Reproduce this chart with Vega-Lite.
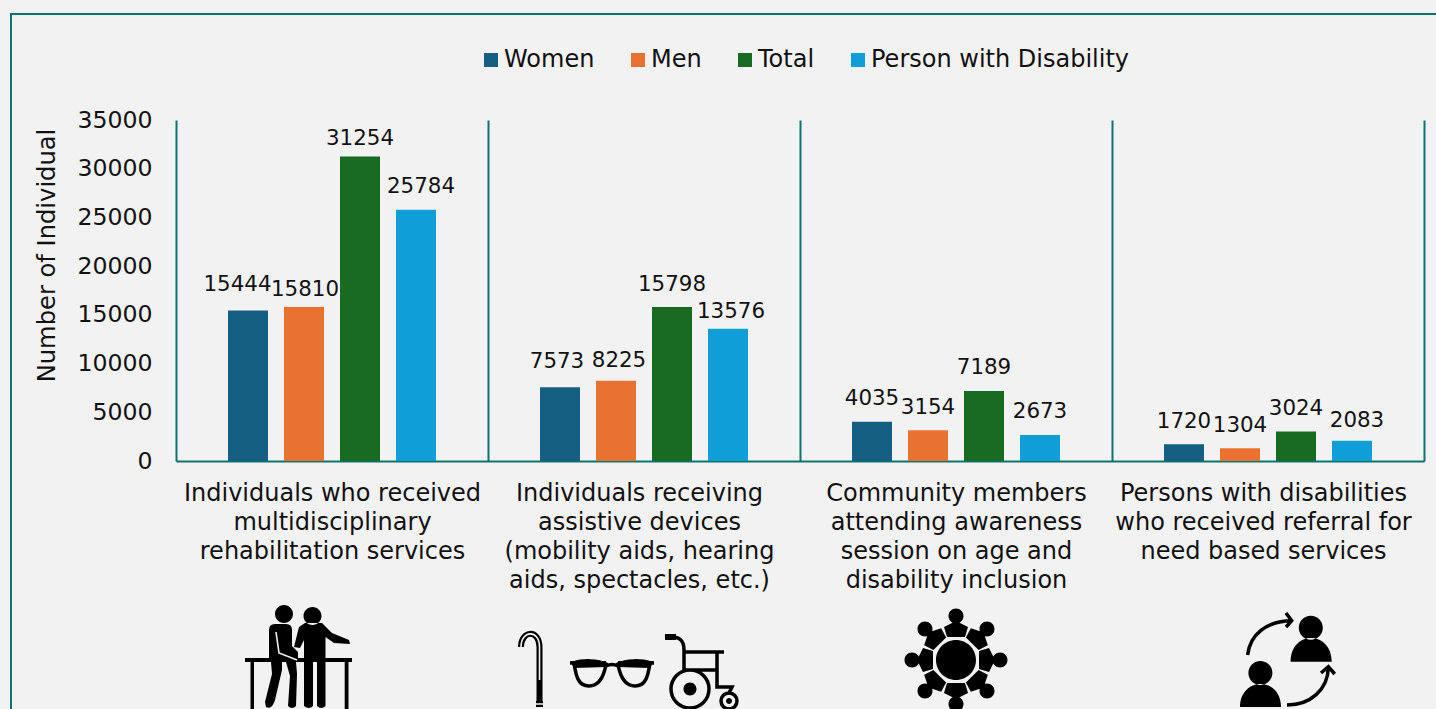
{
"$schema":"https://vega.github.io/schema/vega-lite/v6.json",
"autosize":{"type":"none"},
"padding":{"left":11,"top":14,"right":0,"bottom":0},
"width":1430,"height":700,
"background":"#f2f2f2",
"view":{"fill":"#f2f2f2","stroke":"#0f7270","strokeWidth":2},
"config":{"font":"DejaVu Sans"},
"datasets":{
"bars":[
{"cat":"Individuals who received|multidisciplinary|rehabilitation services","series":"Women","value":15444},
{"cat":"Individuals who received|multidisciplinary|rehabilitation services","series":"Men","value":15810},
{"cat":"Individuals who received|multidisciplinary|rehabilitation services","series":"Total","value":31254},
{"cat":"Individuals who received|multidisciplinary|rehabilitation services","series":"Person with Disability","value":25784},
{"cat":"Individuals receiving|assistive devices|(mobility aids, hearing|aids, spectacles, etc.)","series":"Women","value":7573},
{"cat":"Individuals receiving|assistive devices|(mobility aids, hearing|aids, spectacles, etc.)","series":"Men","value":8225},
{"cat":"Individuals receiving|assistive devices|(mobility aids, hearing|aids, spectacles, etc.)","series":"Total","value":15798},
{"cat":"Individuals receiving|assistive devices|(mobility aids, hearing|aids, spectacles, etc.)","series":"Person with Disability","value":13576},
{"cat":"Community members|attending awareness|session on age and|disability inclusion","series":"Women","value":4035},
{"cat":"Community members|attending awareness|session on age and|disability inclusion","series":"Men","value":3154},
{"cat":"Community members|attending awareness|session on age and|disability inclusion","series":"Total","value":7189},
{"cat":"Community members|attending awareness|session on age and|disability inclusion","series":"Person with Disability","value":2673},
{"cat":"Persons with disabilities|who received referral for|need based services","series":"Women","value":1720},
{"cat":"Persons with disabilities|who received referral for|need based services","series":"Men","value":1304},
{"cat":"Persons with disabilities|who received referral for|need based services","series":"Total","value":3024},
{"cat":"Persons with disabilities|who received referral for|need based services","series":"Person with Disability","value":2083}
],
"icons":[
{"cat":"Individuals who received|multidisciplinary|rehabilitation services","part":"rehab","ink":"fill"},
{"cat":"Individuals who received|multidisciplinary|rehabilitation services","part":"rehabcut","ink":"cut"},
{"cat":"Individuals receiving|assistive devices|(mobility aids, hearing|aids, spectacles, etc.)","part":"cane","ink":"wide"},
{"cat":"Individuals receiving|assistive devices|(mobility aids, hearing|aids, spectacles, etc.)","part":"canecut","ink":"cut"},
{"cat":"Individuals receiving|assistive devices|(mobility aids, hearing|aids, spectacles, etc.)","part":"glasses","ink":"line"},
{"cat":"Individuals receiving|assistive devices|(mobility aids, hearing|aids, spectacles, etc.)","part":"chair","ink":"line"},
{"cat":"Individuals receiving|assistive devices|(mobility aids, hearing|aids, spectacles, etc.)","part":"hubs","ink":"fill"},
{"cat":"Community members|attending awareness|session on age and|disability inclusion","part":"community","ink":"fill"},
{"cat":"Persons with disabilities|who received referral for|need based services","part":"referral","ink":"fill"},
{"cat":"Persons with disabilities|who received referral for|need based services","part":"arrows","ink":"line"}
]
},
"encoding":{
"x":{"field":"cat","type":"nominal","sort":null,"title":null,
 "scale":{"range":[165,1413],"paddingInner":0,"paddingOuter":0},
 "axis":{"offset":-253,"tickBand":"extent","tickSize":-341,"tickColor":"#0f7270","tickWidth":2,"domainColor":"#0f7270","domainWidth":2,"labelAngle":0,"labelColor":"#111111","labelFontSize":24,"labelLineHeight":29.3,"labelBaseline":"top","labelPadding":361,"labelLimit":500,"labelOverlap":false,"labelBound":false,"labelFlush":false,
 "labelOffset":{"condition":{"test":"datum.value && (indexof(datum.value,'assistive')>=0 || indexof(datum.value,'referral')>=0)","value":-5},"value":0},
 "labelExpr":"datum.value ? split(datum.value,'|') : ''"}}
},
"layer":[
{"data":{"name":"bars"},"mark":{"type":"bar","width":40},
 "encoding":{
  "xOffset":{"field":"series","type":"nominal","scale":{"domain":["Women","Men","Total","Person with Disability"],"paddingInner":0.2857,"paddingOuter":0.9286}},
  "y":{"field":"value","type":"quantitative","title":"Number of Individual",
   "scale":{"domain":[0,35000],"range":[447,106],"nice":false},
   "axis":{"offset":-141,"values":[0,5000,10000,15000,20000,25000,30000,35000],"format":"d","domain":false,"ticks":false,"grid":false,"labelPadding":0,"labelFontSize":23.6,"labelColor":"#111111","titleFontSize":24.2,"titleFontWeight":"normal","titleColor":"#111111","titleX":-93,"titleY":241}},
  "color":{"field":"series","type":"nominal",
   "scale":{"domain":["Women","Men","Total","Person with Disability"],"range":["#156082","#E97132","#196B24","#0F9ED5"]},
   "legend":{"title":null,"orient":"none","legendX":468,"legendY":34,"direction":"horizontal","columns":4,"symbolType":"square","symbolSize":196,"symbolStrokeWidth":0,"labelFontSize":24,"labelColor":"#111111","labelOffset":1,"columnPadding":31,"labelLimit":400}}
 }},
{"data":{"name":"bars"},
 "mark":{"type":"text","fontSize":21.4,"color":"#111111","baseline":"middle",
  "dx":{"expr":"({'15444':-10.5,'15810':1,'25784':5,'13576':3,'8225':3,'7573':-3,'2083':5})[datum.value]||0"},
  "dy":{"expr":"({'15444':-26,'15810':-17,'31254':-17,'25784':-23,'13576':-17,'8225':-20,'7573':-25,'2083':-20})[datum.value]||-22.5"}},
 "encoding":{
  "xOffset":{"field":"series","type":"nominal","scale":{"domain":["Women","Men","Total","Person with Disability"],"paddingInner":0.2857,"paddingOuter":0.9286}},
  "y":{"field":"value","type":"quantitative"},
  "text":{"field":"value","type":"quantitative","format":"d"}
 }},
{"data":{"name":"icons"},"transform":[{"filter":"datum.ink==='fill'"}],
 "mark":{"type":"point","filled":true,"fill":"#000000","stroke":null,"opacity":1,"size":4,"yOffset":199},
 "encoding":{"y":{"datum":0,"type":"quantitative"},
  "shape":{"field":"part","type":"nominal","legend":null,
  "scale":{"domain":["rehab","rehabcut","cane","canecut","glasses","chair","hubs","community","referral","arrows"],
  "range":[
"M-57,-46 A9,9 0 1 0 -39,-46 A9,9 0 1 0 -57,-46 Z M-28.5,-44 A9,9 0 1 0 -10.5,-44 A9,9 0 1 0 -28.5,-44 Z M-87,-2 L20,-2 L20,2 L-87,2 Z M-81.5,2 L-78,2 L-78,50 L-81.5,50 Z M12.7,2 L16.5,2 L16.5,50 L12.7,50 Z M-63,-30 Q-63,-36 -57,-36 L-46,-36 Q-40,-36 -40,-30 L-40,-14 L-34,-8 L-34,-2 L-63,-2 Z M-61,2 L-50,2 L-50,10 L-57,40 Q-60,50 -66,47 L-67,42 L-60,14 Z M-46,2 L-36,2 L-35,14 L-36,46 Q-40,50 -44,46 L-42,16 Z M-38,-13 L-33,-33 L-27,-37 L-10,-37 L0,-27 L17,-20 L18,-16 L2,-17 L-6.5,-23 L-6.5,-2 L-28,-2 L-28,-20 L-32,-12 Z M-28,2 L-19,2 L-19,46 Q-23,50 -28,46 Z M-15,2 L-6.5,2 L-6.5,46 Q-11,50 -15,46 Z",
"M-56,-28 L-53,-7 L-35,0",
"M-123,-13 C-123,-30 -104.5,-31 -104.5,-13 L-104.5,44 M-108,44 L-101,44",
"M-123,-13 C-123,-30 -104.5,-31 -104.5,-13 L-104.5,20 M-108,44 L-101,44",
"M-70,3 C-62,0 -46,0 -38,4 C-40,16 -44,26 -55,26 C-66,26 -68,16 -70,3 Z M6,3 C-2,0 -18,0 -26,4 C-24,16 -20,26 -9,26 C2,26 4,16 6,3 Z M-38,6 Q-32,3 -26,6 M-74,3 L-70,3 M6,3 L10,3",
"M21,-23 C36,-24 40,-20 40,-10 L40,10 M40,-8 L80,-8 M40,10 L73,10 M73,-8 L73,27 L88,27 L85,33 M65,29 A19,19 0 1 0 27,29 A19,19 0 1 0 65,29 Z M93,41 A8,8 0 1 0 77,41 A8,8 0 1 0 93,41 Z",
"M39.5,29 A6.5,6.5 0 1 0 52.5,29 A6.5,6.5 0 1 0 39.5,29 Z M82,41 A3,3 0 1 0 88,41 A3,3 0 1 0 82,41 Z M-74,1 L-38,1 L-38,7 L-70,8 Z M-26,1 L10,1 L6,8 L-26,7 Z M21,-26 L32,-26 L32,-20 L21,-20 Z",
"M-20,0 A20,20 0 1 0 20,0 A20,20 0 1 0 -20,0 Z M-9,-23 L9,-23 L12,-33 L0,-39 L-12,-33 Z M9.9,-22.6 L22.6,-9.9 L31.8,-14.8 L27.6,-27.6 L14.8,-31.8 Z M23,-9 L23,9 L33,12 L39,0 L33,-12 Z M22.6,9.9 L9.9,22.6 L14.8,31.8 L27.6,27.6 L31.8,14.8 Z M9,23 L-9,23 L-12,33 L0,39 L12,33 Z M-9.9,22.6 L-22.6,9.9 L-31.8,14.8 L-27.6,27.6 L-14.8,31.8 Z M-23,9 L-23,-9 L-33,-12 L-39,0 L-33,12 Z M-22.6,-9.9 L-9.9,-22.6 L-14.8,-31.8 L-27.6,-27.6 L-31.8,-14.8 Z M-7.5,-44 A7.5,7.5 0 1 0 7.5,-44 A7.5,7.5 0 1 0 -7.5,-44 Z M-7.5,44 A7.5,7.5 0 1 0 7.5,44 A7.5,7.5 0 1 0 -7.5,44 Z M36.5,0 A7.5,7.5 0 1 0 51.5,0 A7.5,7.5 0 1 0 36.5,0 Z M-51.5,0 A7.5,7.5 0 1 0 -36.5,0 A7.5,7.5 0 1 0 -51.5,0 Z M23.5,-31 A7.5,7.5 0 1 0 38.5,-31 A7.5,7.5 0 1 0 23.5,-31 Z M-38.5,-31 A7.5,7.5 0 1 0 -23.5,-31 A7.5,7.5 0 1 0 -38.5,-31 Z M23.5,31 A7.5,7.5 0 1 0 38.5,31 A7.5,7.5 0 1 0 23.5,31 Z M-38.5,31 A7.5,7.5 0 1 0 -23.5,31 A7.5,7.5 0 1 0 -38.5,31 Z",
"M30.8,-32.3 A12,12 0 1 0 54.8,-32.3 A12,12 0 1 0 30.8,-32.3 Z M22.6,1.7 C22.6,-14 33,-22 43,-22 C53,-22 63.7,-14 63.7,1.7 Z M-19.6,13 A12,12 0 1 0 4.4,13 A12,12 0 1 0 -19.6,13 Z M-28,47 C-28,32 -18,24 -7,24 C3,24 13,32 13,47 Z",
"M-20.4,-5 C-18,-25 -2,-39 23.7,-39.3 M18,-47 L23.7,-39.3 L18,-33 M19,45 C42,45 60,30 60.4,6.7 M53,13 L60.4,6.7 L66.7,14"
  ]}}}},
{"data":{"name":"icons"},"transform":[{"filter":"datum.ink==='wide'"}],
 "mark":{"type":"point","filled":false,"fill":null,"stroke":"#000000","opacity":1,"strokeWidth":6,"size":4,"yOffset":199},
 "encoding":{"y":{"datum":0,"type":"quantitative"},"shape":{"field":"part","type":"nominal","legend":null}}},
{"data":{"name":"icons"},"transform":[{"filter":"datum.ink==='line'"}],
 "mark":{"type":"point","filled":false,"fill":null,"stroke":"#000000","opacity":1,"strokeWidth":3.5,"size":4,"yOffset":199},
 "encoding":{"y":{"datum":0,"type":"quantitative"},"shape":{"field":"part","type":"nominal","legend":null}}},
{"data":{"name":"icons"},"transform":[{"filter":"datum.ink==='cut'"}],
 "mark":{"type":"point","filled":false,"fill":null,"stroke":"#f2f2f2","opacity":1,"strokeWidth":1.6,"size":4,"yOffset":199},
 "encoding":{"y":{"datum":0,"type":"quantitative"},"shape":{"field":"part","type":"nominal","legend":null}}}
]
}
